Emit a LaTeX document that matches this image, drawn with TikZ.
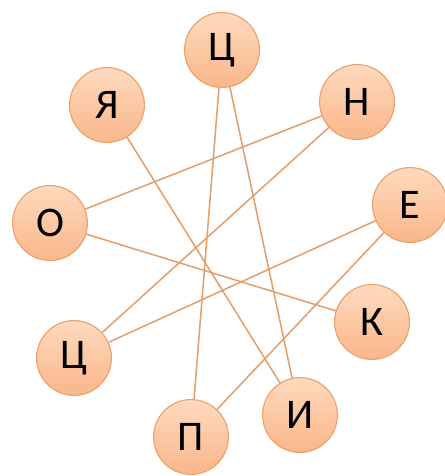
\documentclass[tikz,border=0pt]{standalone}
\usepackage{fontspec}
\setmainfont{Carlito}
\definecolor{ringc}{RGB}{238,160,105}
\definecolor{topc}{RGB}{254,218,190}
\definecolor{botc}{RGB}{250,182,138}
\definecolor{linkc}{RGB}{226,160,110}
\begin{document}
\begin{tikzpicture}[x=0.025cm,y=-0.025cm,letter/.style={circle,draw=ringc,line width=0.8pt,top color=topc,bottom color=botc,minimum size=1.87cm,inner sep=0pt,font=\fontsize{30}{36}\selectfont},link/.style={draw=linkc,line width=1.1pt}]
\useasboundingbox(0,0)rectangle(445,476);
\node[letter](c1)at(222,50){Ц};\node[letter](ya)at(107,105){Я};\node[letter](n)at(357,102){Н};
\node[letter](o)at(50,223){О};\node[letter](e)at(410,205){Е};\node[letter](k)at(372,322){К};
\node[letter](c2)at(74,358){Ц};\node[letter](p)at(191,437){П};\node[letter](i)at(300,415){И};
\draw[link](c1)--(p);\draw[link](c1)--(i);\draw[link](ya)--(i);\draw[link](n)--(o);
\draw[link](n)--(c2);\draw[link](o)--(k);\draw[link](e)--(c2);\draw[link](e)--(p);
\end{tikzpicture}
\end{document}
